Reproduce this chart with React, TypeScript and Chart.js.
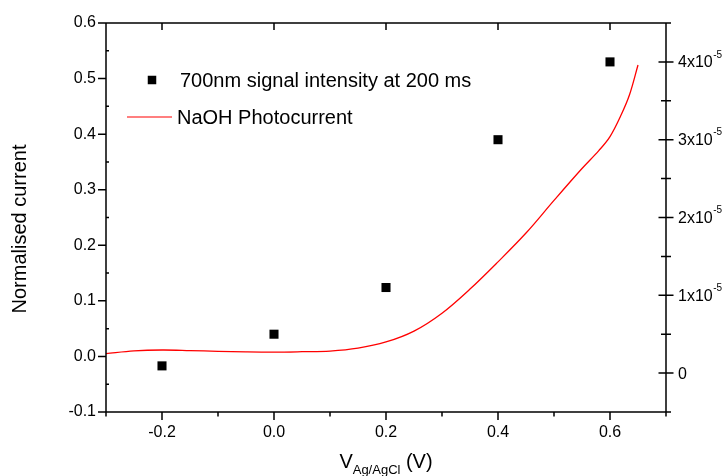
import React, { useEffect, useRef } from 'react';
import { Chart, registerables } from 'chart.js';

Chart.register(...registerables);

// ---- data ----
const SCATTER_X = [-0.2, 0.0, 0.2, 0.4, 0.6];
const SCATTER_Y = [-0.017, 0.04, 0.124, 0.39, 0.53];

const CURVE_X = [-0.3, -0.25, -0.2, -0.15, -0.1, -0.05, 0, 0.05, 0.1, 0.15, 0.2, 0.25, 0.3, 0.35, 0.4, 0.45, 0.5, 0.55, 0.58, 0.6, 0.62, 0.635, 0.65];
// photocurrent in units of 1e-5
const CURVE_Y = [0.25, 0.285, 0.297, 0.29, 0.28, 0.273, 0.27, 0.275, 0.283, 0.32, 0.4, 0.54, 0.77, 1.08, 1.43, 1.8, 2.22, 2.63, 2.86, 3.04, 3.32, 3.58, 3.96];

const X_RANGE = [-0.3, 0.7];
const Y_RANGE = [-0.1, 0.6];
const Y2_RANGE = [-0.5, 4.5];
const RIGHT_EXPONENT = '-5';

const SCATTER_LABEL = '700nm signal intensity at 200 ms';
const CURVE_LABEL = 'NaOH Photocurrent';
const Y_TITLE = 'Normalised current';
const X_TITLE_MAIN = 'V';
const X_TITLE_SUB = 'Ag/AgCl';
const X_TITLE_TAIL = ' (V)';

const FONT = '"Liberation Sans", Arial, sans-serif';

const fmt1 = (v: any) => {
  const n = Number(v);
  return (Math.abs(n) < 1e-9 ? 0 : n).toFixed(1);
};

const framePlugin = {
  id: 'frame',
  afterDraw(chart: any) {
    const ctx = chart.ctx as CanvasRenderingContext2D;
    const { left, right, top, bottom } = chart.chartArea;
    const xs = chart.scales.x;
    const ys = chart.scales.y;
    const y2 = chart.scales.y2;
    ctx.save();
    ctx.strokeStyle = '#000';
    ctx.lineWidth = 1.5;
    ctx.beginPath();
    ctx.rect(left, top, right - left, bottom - top);
    xs.ticks.forEach((t: any) => {
      const px = xs.getPixelForValue(t.value);
      const major = Math.abs(Math.round(t.value * 10)) % 2 === 0;
      ctx.moveTo(px, bottom);
      ctx.lineTo(px, bottom + (major ? 8 : 4.5));
      if (major) {
        ctx.moveTo(px, top);
        ctx.lineTo(px, top + 7);
      }
    });
    ys.ticks.forEach((t: any, i: number) => {
      const py = ys.getPixelForValue(t.value);
      ctx.moveTo(left - 8, py);
      ctx.lineTo(left, py);
      if (i < ys.ticks.length - 1) {
        const pm = ys.getPixelForValue((t.value + ys.ticks[i + 1].value) / 2);
        ctx.moveTo(left, pm);
        ctx.lineTo(left + 3, pm);
      }
    });
    y2.ticks.forEach((t: any) => {
      const py = y2.getPixelForValue(t.value);
      const major = Math.abs(t.value - Math.round(t.value)) < 1e-6;
      const h = major ? 7.5 : 5;
      ctx.moveTo(right - h, py);
      ctx.lineTo(right + h, py);
    });
    ctx.stroke();

    // right axis labels
    ctx.fillStyle = '#000';
    ctx.textAlign = 'left';
    ctx.textBaseline = 'middle';
    y2.ticks.forEach((t: any) => {
      const major = Math.abs(t.value - Math.round(t.value)) < 1e-6;
      if (!major) return;
      const v = Math.round(t.value);
      const py = y2.getPixelForValue(t.value);
      const x0 = right + 12;
      ctx.font = `16px ${FONT}`;
      if (v === 0) {
        ctx.fillText('0', x0, py + 1);
      } else {
        const main = `${v}x10`;
        ctx.fillText(main, x0, py + 1);
        const w = ctx.measureText(main).width;
        ctx.font = `10px ${FONT}`;
        ctx.fillText(RIGHT_EXPONENT, x0 + w + 0.5, py - 7);
      }
    });

    // y title
    ctx.save();
    ctx.font = `20px ${FONT}`;
    ctx.translate(20, 229);
    ctx.rotate(-Math.PI / 2);
    ctx.textAlign = 'center';
    ctx.textBaseline = 'middle';
    ctx.fillText(Y_TITLE, 0, 0);
    ctx.restore();

    // x title with subscript
    ctx.textBaseline = 'alphabetic';
    ctx.textAlign = 'left';
    ctx.font = `20px ${FONT}`;
    const wMain = ctx.measureText(X_TITLE_MAIN).width;
    const wTail = ctx.measureText(X_TITLE_TAIL).width;
    ctx.font = `13px ${FONT}`;
    const wSub = ctx.measureText(X_TITLE_SUB).width;
    const total = wMain + wSub + wTail;
    let tx = (left + right) / 2 - total / 2;
    ctx.font = `20px ${FONT}`;
    ctx.fillText(X_TITLE_MAIN, tx, 468);
    tx += wMain;
    ctx.font = `13px ${FONT}`;
    ctx.fillText(X_TITLE_SUB, tx, 474);
    tx += wSub;
    ctx.font = `20px ${FONT}`;
    ctx.fillText(X_TITLE_TAIL, tx, 468);

    // legend
    ctx.font = `20px ${FONT}`;
    ctx.textBaseline = 'middle';
    ctx.fillStyle = '#000';
    const r1 = top + 57;
    ctx.fillRect(left + 46 - 4.25, r1 - 4.25, 8.5, 8.5);
    ctx.fillText(SCATTER_LABEL, left + 74, r1 + 1);
    const r2 = top + 94;
    ctx.strokeStyle = '#ff0000';
    ctx.lineWidth = 1.2;
    ctx.beginPath();
    ctx.moveTo(left + 21, r2);
    ctx.lineTo(left + 66, r2);
    ctx.stroke();
    ctx.fillText(CURVE_LABEL, left + 71, r2 + 1);

    ctx.restore();
  },
};

export default function App() {
  const ref = useRef<HTMLCanvasElement>(null);
  useEffect(() => {
    if (!ref.current) return;
    Chart.defaults.font.family = FONT;
    Chart.defaults.font.size = 16;
    Chart.defaults.color = '#000';
    const chart = new Chart(ref.current, {
      type: 'scatter',
      data: {
        datasets: [
          {
            label: SCATTER_LABEL,
            data: SCATTER_X.map((x, i) => ({ x, y: SCATTER_Y[i] })),
            yAxisID: 'y',
            pointStyle: 'rect',
            pointRadius: 6.4,
            pointBorderWidth: 0,
            backgroundColor: '#000',
            borderColor: '#000',
            showLine: false,
          },
          {
            label: CURVE_LABEL,
            data: CURVE_X.map((x, i) => ({ x, y: CURVE_Y[i] })),
            yAxisID: 'y2',
            showLine: true,
            pointRadius: 0,
            borderColor: '#ff0000',
            borderWidth: 1.3,
            tension: 0.35,
            fill: false,
          },
        ],
      },
      options: {
        animation: false,
        responsive: false,
        layout: { padding: { top: 23, left: 0, right: 0, bottom: 0 } },
        plugins: { legend: { display: false }, tooltip: { enabled: false } },
        scales: {
          x: {
            type: 'linear',
            min: X_RANGE[0],
            max: X_RANGE[1],
            grid: { display: false, drawTicks: false },
            border: { display: false },
            ticks: {
              stepSize: 0.1,
              autoSkip: false,
              maxRotation: 0,
              padding: 11,
              callback: (v: any) => (Math.abs(Math.round(Number(v) * 10)) % 2 === 0 ? fmt1(v) : ''),
            },
            afterFit: (s: any) => { s.height = 64; },
          },
          y: {
            type: 'linear',
            position: 'left',
            min: Y_RANGE[0],
            max: Y_RANGE[1],
            grid: { display: false, drawTicks: false },
            border: { display: false },
            ticks: {
              stepSize: 0.1,
              padding: 10,
              callback: (v: any) => fmt1(v),
            },
            afterFit: (s: any) => { s.width = 106; },
          },
          y2: {
            type: 'linear',
            position: 'right',
            min: Y2_RANGE[0],
            max: Y2_RANGE[1],
            grid: { display: false, drawTicks: false },
            border: { display: false },
            ticks: { stepSize: 0.5, display: false },
            afterFit: (s: any) => { s.width = 58; },
          },
        },
      },
      plugins: [framePlugin],
    });
    return () => chart.destroy();
  }, []);
  return (
    <canvas
      ref={ref}
      width={724}
      height={476}
      style={{ position: 'fixed', left: 0, top: 0, display: 'block' }}
    />
  );
}
